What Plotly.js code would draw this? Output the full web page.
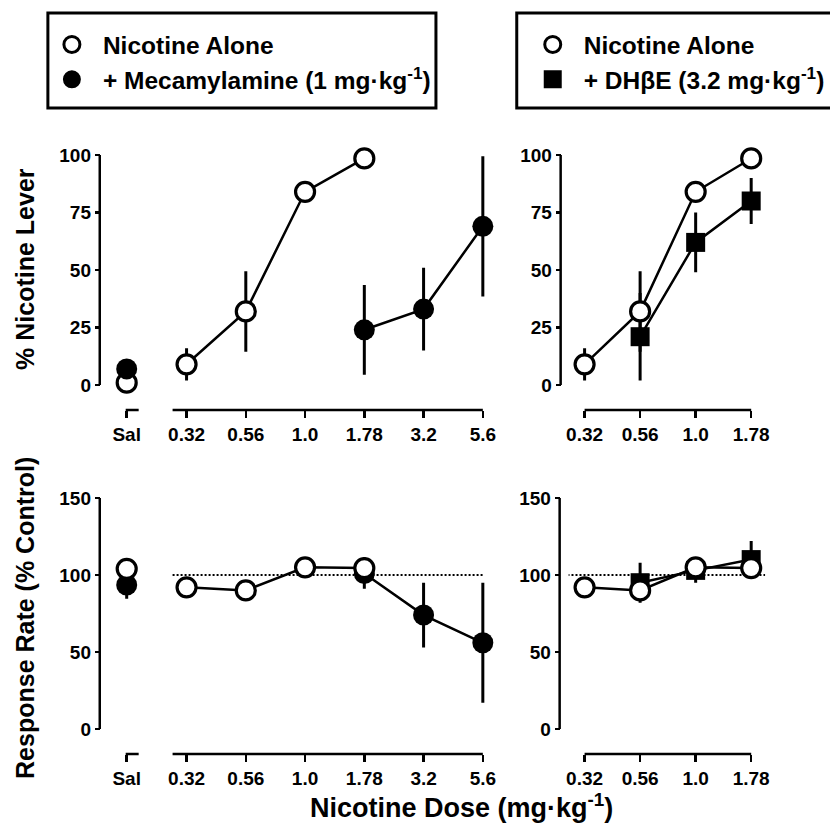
<!DOCTYPE html>
<html><head><meta charset="utf-8">
<script src="https://cdn.plot.ly/plotly-3.0.1.min.js"></script>
<style>html,body{margin:0;padding:0;background:#fff}#chart{width:830px;height:826px}</style>
</head><body><div id="chart"></div>
<script>
// ---------- data ----------
const salLabel = ['Sal'];
const leftDoseLabels = ['0.32','0.56','1.0','1.78','3.2','5.6'];
const rightDoseLabels = ['0.32','0.56','1.0','1.78'];

const nicDoses = ['0.32','0.56','1.0','1.78'];
const mecDoses = ['1.78','3.2','5.6'];
const dheDoses = ['0.56','1.0','1.78'];

// % nicotine lever
const nicSalLever = [1],   nicSalLeverErr = [2];
const mecSalLever = [7],   mecSalLeverErr = [3];
const nicLever = [9, 32, 84, 98.5],  nicLeverErr = [7, 17.5, 3, 2];
const mecLever = [24, 33, 69],       mecLeverErr = [19.5, 18, 30.5];
const dheLever = [21, 62, 80],       dheLeverErr = [19, 13, 10];

// response rate (% control)
const nicSalRate = [104],  nicSalRateErr = [3];
const mecSalRate = [93.5], mecSalRateErr = [9];
const nicRate = [92, 90, 105, 104.5], nicRateErr = [2, 3, 3, 7];
const mecRate = [101, 74, 56],        mecRateErr = [10, 21, 39];
const dheRate = [95, 103, 110],       dheRateErr = [13, 8, 12];

const leverTicks = [0, 25, 50, 75, 100];
const rateTicks = [0, 50, 100, 150];
const controlLevel = 100;

const nameNic = 'Nicotine Alone';
const nameMec = '+ Mecamylamine (1 mg\u00B7kg<sup>-1</sup>)';
const nameDhe = '+ DH\u03B2E (3.2 mg\u00B7kg<sup>-1</sup>)';

// ---------- styling / layout helpers ----------
const W = 830, H = 826;
const px = v => v / W, py = v => 1 - v / H;
const FONT = 'Liberation Sans, Arial, Helvetica, sans-serif';
const BLACK = '#000';

const openMarker = {symbol:'circle', size:19, color:'#fff', line:{color:BLACK, width:3.2}};
const fillMarker = {symbol:'circle', size:21, color:BLACK, line:{color:BLACK, width:0}};
const sqMarker   = {symbol:'square', size:19, color:BLACK, line:{color:BLACK, width:0}};

function errBar(a){ return {type:'data', array:a, visible:true, thickness:3, width:0, color:BLACK}; }
function series(x, y, e, marker, xa, ya){
  return {x:x, y:y, error_y:errBar(e), mode:'lines+markers', marker:marker,
          line:{color:BLACK, width:2.5}, xaxis:xa, yaxis:ya, showlegend:false,
          cliponaxis:false, hoverinfo:'skip'};
}
function legendItem(name, marker, leg){
  return {x:[null], y:[null], mode:'markers', name:name, marker:marker, legend:leg,
          showlegend:true, hoverinfo:'skip'};
}

const traces = [
  // top-left: saline
  series(salLabel, nicSalLever, nicSalLeverErr, openMarker, 'x', 'y'),
  series(salLabel, mecSalLever, mecSalLeverErr, fillMarker, 'x', 'y'),
  // top-left: doses
  series(nicDoses, nicLever, nicLeverErr, openMarker, 'x2', 'y'),
  series(mecDoses, mecLever, mecLeverErr, fillMarker, 'x2', 'y'),
  // top-right
  series(dheDoses, dheLever, dheLeverErr, sqMarker, 'x3', 'y2'),
  series(nicDoses, nicLever, nicLeverErr, openMarker, 'x3', 'y2'),
  // bottom-left: saline
  series(salLabel, mecSalRate, mecSalRateErr, fillMarker, 'x4', 'y3'),
  series(salLabel, nicSalRate, nicSalRateErr, openMarker, 'x4', 'y3'),
  // bottom-left: doses
  series(mecDoses, mecRate, mecRateErr, fillMarker, 'x5', 'y3'),
  series(nicDoses, nicRate, nicRateErr, openMarker, 'x5', 'y3'),
  // bottom-right
  series(dheDoses, dheRate, dheRateErr, sqMarker, 'x6', 'y4'),
  series(nicDoses, nicRate, nicRateErr, openMarker, 'x6', 'y4'),
  // legends
  legendItem(nameNic, {symbol:'circle', size:16, color:'#fff', line:{color:BLACK, width:3}}, 'legend'),
  legendItem(nameMec, {symbol:'circle', size:16, color:BLACK, line:{color:BLACK, width:2}}, 'legend'),
  legendItem(nameNic, {symbol:'circle', size:16, color:'#fff', line:{color:BLACK, width:3}}, 'legend2'),
  legendItem(nameDhe, {symbol:'square', size:16, color:BLACK, line:{color:BLACK, width:2}}, 'legend2')
];

const tickFont = {family:FONT, size:19, color:BLACK, weight:'bold'};
const common = {showline:false, ticks:'outside', tickwidth:2.5,
                tickcolor:BLACK, showgrid:false, zeroline:false, fixedrange:true,
                tickfont:tickFont, anchor:'free'};
const AXW = 2.5;

// An axis is described by: where its drawn line starts/ends (pixels) and the
// value range that line covers; the plotting area is padded so markers and
// error bars at the ends are not clipped.
const PAD = 16;
function xCat(cats, linePx, lineRange, posY){
  const s = (linePx[1] - linePx[0]) / (lineRange[1] - lineRange[0]);
  return Object.assign({}, common, {type:'category', categoryorder:'array', categoryarray:cats,
    domain:[px(linePx[0] - PAD), px(linePx[1] + PAD)],
    range:[lineRange[0] - PAD / s, lineRange[1] + PAD / s], position:py(posY), ticklen:7});
}
function yLin(ticks, linePx, lineRange, posX){
  const s = (linePx[1] - linePx[0]) / (lineRange[1] - lineRange[0]);
  return Object.assign({}, common, {type:'linear', tickmode:'array', tickvals:ticks,
    domain:[py(linePx[1] + PAD), py(linePx[0] - PAD)],
    range:[lineRange[0] - PAD / s, lineRange[1] + PAD / s], position:px(posX), ticklen:5,
    ticklabelstandoff:0});
}

const leftScale = 59.4;            // px per dose step, left panels
const salRange = [-1 / leftScale, 12 / leftScale];
const leftRange = [-14 / leftScale, 5];
const rightRange = [0, 3];
const topX = 410, botX = 754;

function xLine(xref, rng, posY){
  return {type:'line', xref:xref, yref:'paper', x0:rng[0], x1:rng[1], y0:py(posY), y1:py(posY),
          line:{color:BLACK, width:AXW}};
}
function yLine(yref, rng, posX){
  return {type:'line', xref:'paper', yref:yref, x0:px(posX), x1:px(posX), y0:rng[0] , y1:rng[1],
          line:{color:BLACK, width:AXW}};
}

const legFont = {family:FONT, size:24.5, color:BLACK, weight:'bold'};
const layout = {
  width:W, height:H, margin:{l:0, r:0, t:0, b:0},
  paper_bgcolor:'#fff', plot_bgcolor:'rgba(0,0,0,0)',
  font:{family:FONT, color:BLACK},
  xaxis:  xCat(salLabel, [126,139], salRange, topX),
  xaxis2: xCat(leftDoseLabels, [173,484], leftRange, topX),
  xaxis3: xCat(rightDoseLabels, [586,753], rightRange, topX),
  xaxis4: xCat(salLabel, [126,139], salRange, botX),
  xaxis5: xCat(leftDoseLabels, [173,484], leftRange, botX),
  xaxis6: xCat(rightDoseLabels, [586,753], rightRange, botX),
  yaxis:  yLin(leverTicks, [155,385], [0,100], 100),
  yaxis2: yLin(leverTicks, [155,385], [0,100], 562),
  yaxis3: yLin(rateTicks, [498,729], [0,150], 100),
  yaxis4: yLin(rateTicks, [498,729], [0,150], 561),
  legend: {x:px(41), y:py(22), xanchor:'left', yanchor:'top', bgcolor:'rgba(0,0,0,0)',
           borderwidth:0, itemwidth:52, font:legFont, traceorder:'normal'},
  legend2:{x:px(523), y:py(22), xanchor:'left', yanchor:'top', bgcolor:'rgba(0,0,0,0)',
           borderwidth:0, itemwidth:52, font:legFont, traceorder:'normal'},
  shapes:[
    // legend boxes
    {type:'rect', xref:'paper', yref:'paper', x0:px(48), x1:px(437), y0:py(108), y1:py(13),
     line:{color:BLACK, width:3}},
    {type:'rect', xref:'paper', yref:'paper', x0:px(518), x1:px(840), y0:py(108), y1:py(13),
     line:{color:BLACK, width:3}},
    // reference (control) lines
    {type:'line', xref:'x5', yref:'y3', x0:leftRange[0], x1:leftRange[1], y0:controlLevel, y1:controlLevel,
     layer:'below', line:{color:BLACK, width:2, dash:'2px,2px'}},
    {type:'line', xref:'x6', yref:'y4', x0:-0.38, x1:3.25, y0:controlLevel, y1:controlLevel,
     layer:'below', line:{color:BLACK, width:2, dash:'2px,2px'}},
    // axis lines
    xLine('x', salRange, topX), xLine('x2', leftRange, topX), xLine('x3', rightRange, topX),
    xLine('x4', salRange, botX), xLine('x5', leftRange, botX), xLine('x6', rightRange, botX),
    yLine('y', [0,100], 100), yLine('y2', [0,100], 562),
    yLine('y3', [0,150], 100), yLine('y4', [0,150], 561)
  ],
  annotations:[
    {text:'% Nicotine Lever', xref:'paper', yref:'paper', x:px(25), y:py(269), textangle:-90,
     showarrow:false, xanchor:'center', yanchor:'middle',
     font:{family:FONT, size:25, color:BLACK, weight:'bold'}},
    {text:'Response Rate (% Control)', xref:'paper', yref:'paper', x:px(25), y:py(618), textangle:-90,
     showarrow:false, xanchor:'center', yanchor:'middle',
     font:{family:FONT, size:25, color:BLACK, weight:'bold'}},
    {text:'Nicotine Dose (mg\u00B7kg<sup>-1</sup>)', xref:'paper', yref:'paper', x:px(463), y:py(806),
     showarrow:false, xanchor:'center', yanchor:'middle',
     font:{family:FONT, size:27, color:BLACK, weight:'bold'}}
  ]
};

Plotly.newPlot('chart', traces, layout, {displayModeBar:false, staticPlot:true});
</script></body></html>
